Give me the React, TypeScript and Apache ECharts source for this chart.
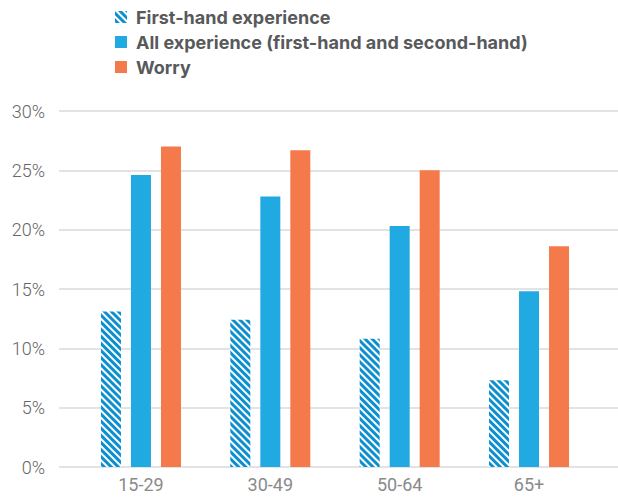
import React, { useEffect, useRef } from "react";
import * as echarts from "echarts";

// Share of each age group, in percent
const ageGroups = ["15-29", "30-49", "50-64", "65+"];
const firstHand = [13.1, 12.4, 10.8, 7.3];
const allExperience = [24.6, 22.8, 20.3, 14.8];
const worry = [27.0, 26.7, 25.0, 18.6];

const yMin = 0;
const yMax = 30;
const yStep = 5;

const seriesNames = [
  "First-hand experience",
  "All experience (first-hand and second-hand)",
  "Worry",
];

const BLUE = "#21a9e1";
const STRIPE_BLUE = "#0b8fd0";
const ORANGE = "#f47a4b";

export default function App() {
  const ref = useRef<HTMLDivElement>(null);

  useEffect(() => {
    document.body.style.margin = "0";
    if (!ref.current) return;
    const chart = echarts.init(ref.current, undefined, { renderer: "svg" });

    const stripes = {
      symbol: "rect",
      symbolSize: 1,
      color: STRIPE_BLUE,
      backgroundColor: "#ffffff",
      dashArrayX: [1, 0],
      dashArrayY: [2.2, 2.0],
      rotation: Math.PI / 4,
    };

    chart.setOption({
      animation: false,
      backgroundColor: "#ffffff",
      legend: {
        orient: "vertical",
        left: 115,
        top: 7,
        padding: 0,
        itemWidth: 12,
        itemHeight: 12,
        itemGap: 5,
        icon: "rect",
        data: seriesNames,
        textStyle: {
          fontFamily: "Inter",
          fontWeight: "bold",
          fontSize: 18,
          lineHeight: 20,
          color: "#58595b",
          padding: [0, 0, 0, 4],
        },
      },
      grid: [
        // full-width grid carrying the value axis and its gridlines
        { left: 59, right: 0, top: 111, bottom: 32 },
        // narrower grid holding the bars
        { left: 76.3, right: 24.3, top: 111, bottom: 32 },
      ],
      xAxis: [
        { type: "value", gridIndex: 0, show: false, min: 0, max: 1 },
        {
          type: "category",
          gridIndex: 1,
          data: ageGroups,
          axisLine: { show: false },
          axisTick: { show: false },
          axisLabel: {
            color: "#8a8a8a",
            fontFamily: "Roboto",
            fontSize: 18,
            margin: 8,
          },
        },
      ],
      yAxis: [
        {
          type: "value",
          gridIndex: 0,
          min: yMin,
          max: yMax,
          interval: yStep,
          axisLine: { show: false },
          axisTick: { show: false },
          axisLabel: {
            formatter: "{value}%",
            color: "#666666",
            fontFamily: "Roboto",
            fontWeight: 300,
            fontSize: 18,
            margin: 14,
          },
          splitLine: { lineStyle: { color: "#dadada", width: 1.5 } },
        },
        {
          type: "value",
          gridIndex: 1,
          min: yMin,
          max: yMax,
          interval: yStep,
          show: false,
          splitLine: { show: false },
        },
      ],
      series: [
        {
          name: seriesNames[0],
          type: "bar",
          xAxisIndex: 1,
          yAxisIndex: 1,
          data: firstHand,
          barWidth: 20,
          barGap: "50%",
          itemStyle: { color: "#ffffff", decal: stripes },
        },
        {
          name: seriesNames[1],
          type: "bar",
          xAxisIndex: 1,
          yAxisIndex: 1,
          data: allExperience,
          barWidth: 20,
          barGap: "50%",
          itemStyle: { color: BLUE },
        },
        {
          name: seriesNames[2],
          type: "bar",
          xAxisIndex: 1,
          yAxisIndex: 1,
          data: worry,
          barWidth: 20,
          barGap: "50%",
          itemStyle: { color: ORANGE },
        },
      ],
    });

    return () => chart.dispose();
  }, []);

  return <div ref={ref} style={{ width: 618, height: 499 }} />;
}
